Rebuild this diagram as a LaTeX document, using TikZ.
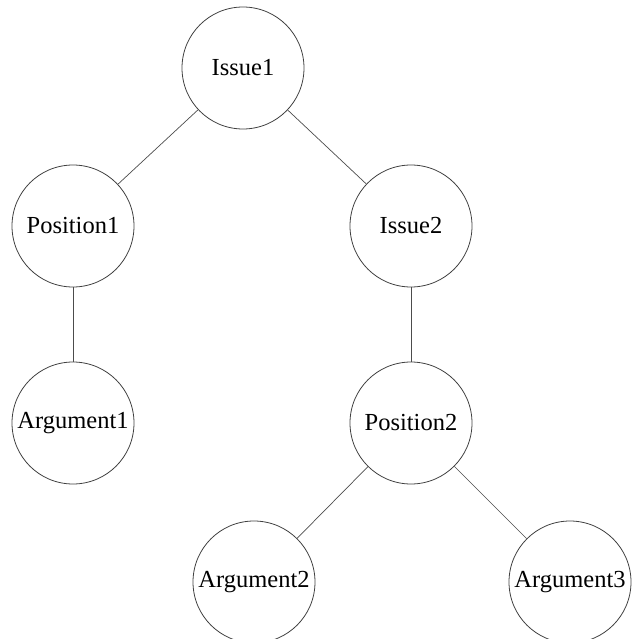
\documentclass[tikz,border=0pt]{standalone}
\usepackage{fontspec}
\setmainfont{Liberation Serif}
\begin{document}
\begin{tikzpicture}[x=1pt,y=-1pt,
  tnode/.style={circle,draw=black!75,line width=0.8pt,minimum size=122pt,inner sep=0pt,font=\fontsize{24.5}{27}\selectfont},
  edge/.style={draw=black!70,line width=0.7pt}]
\useasboundingbox (0,0) rectangle (631,639);
\node[tnode] (i1) at (243,68) {Issue1};
\node[tnode] (p1) at (73,226) {Position1};
\node[tnode] (i2) at (411,226) {Issue2};
\node[tnode] (a1) at (73,423) {Argument1};
\node[tnode] (p2) at (411,423) {Position2};
\node[tnode] (a2) at (254,582) {Argument2};
\node[tnode] (a3) at (570,582) {Argument3};
\draw[edge] (i1) -- (p1);
\draw[edge] (i1) -- (i2);
\draw[edge] (p1) -- (a1);
\draw[edge] (i2) -- (p2);
\draw[edge] (p2) -- (a2);
\draw[edge] (p2) -- (a3);
\end{tikzpicture}
\end{document}
